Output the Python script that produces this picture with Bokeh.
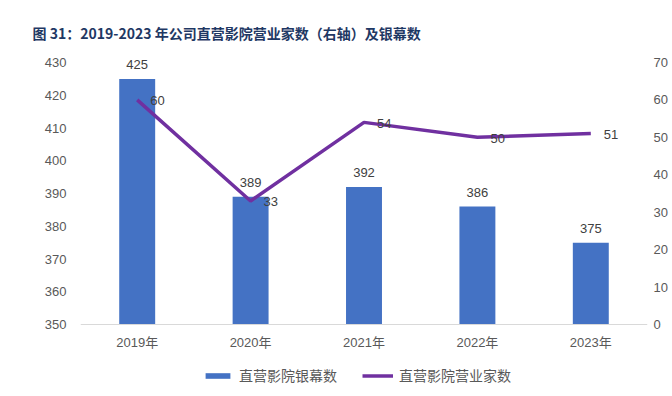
from bokeh.plotting import figure
from bokeh.models import (ColumnDataSource, FactorRange, Range1d, LinearAxis,
                          FixedTicker, Legend, LegendItem)
from bokeh.core.properties import value
from bokeh.embed import file_html
from bokeh.resources import INLINE

years = ["2019年", "2020年", "2021年", "2022年", "2023年"]
screens = [425, 389, 392, 386, 375]
cinemas = [60, 33, 54, 50, 51]
left_ticks = [350, 360, 370, 380, 390, 400, 410, 420, 430]
right_ticks = [0, 10, 20, 30, 40, 50, 60, 70]

title_text = "图 31：2019-2023 年公司直营影院营业家数（右轴）及银幕数"
bar_name = "直营影院银幕数"
line_name = "直营影院营业家数"

BLUE = "#4472C4"
PURPLE = "#7030A0"
GRAY = "#595959"
NUM_FONT = "'Liberation Sans', 'Noto Sans CJK SC', sans-serif"

# pixel layout: frame spans 50..392, the visible axis ranges occupy 62..324
FRAME_TOP, AXIS_TOP, AXIS_Y, FRAME_BOTTOM = 50, 62, 324, 392
ext_lo = (FRAME_BOTTOM - AXIS_Y) / (AXIS_Y - AXIS_TOP)
ext_hi = (AXIS_TOP - FRAME_TOP) / (AXIS_Y - AXIS_TOP)
left_lo, left_hi = left_ticks[0], left_ticks[-1]
right_lo, right_hi = right_ticks[0], right_ticks[-1]
lspan, rspan = left_hi - left_lo, right_hi - right_lo

p = figure(x_range=FactorRange(*years),
           y_range=Range1d(left_lo - ext_lo * lspan, left_hi + ext_hi * lspan),
           width=672, height=396, output_backend="svg", toolbar_location=None,
           min_border_left=80, min_border_right=25, min_border_top=FRAME_TOP,
           min_border_bottom=396 - FRAME_BOTTOM)
p.extra_y_ranges = {"right": Range1d(right_lo - ext_lo * rspan, right_hi + ext_hi * rspan)}
p.outline_line_color = None
p.xgrid.grid_line_color = None
p.ygrid.grid_line_color = None

p.title.text = title_text
p.title.align = "left"
p.title.offset = -48
p.title.standoff = 16
p.title.text_font = "'Noto Sans CJK SC', sans-serif"
p.title.text_font_size = "14px"
p.title.text_font_style = "bold"
p.title.text_color = "#1F3864"

src = ColumnDataSource(dict(x=years, screens=screens, cinemas=cinemas,
                            slab=[str(v) for v in screens],
                            clab=[str(v) for v in cinemas]))

bars = p.vbar(x="x", top="screens", bottom=left_lo, width=0.317, source=src,
              fill_color=BLUE, line_color=None)
line = p.line(x="x", y="cinemas", source=src, y_range_name="right",
              line_color=PURPLE, line_width=3.5)

p.text(x="x", y="screens", text="slab", source=src, text_align="center",
       text_baseline="bottom", y_offset=-10, text_font=value(NUM_FONT),
       text_font_size="13px", text_color="#404040")
p.text(x="x", y="cinemas", text="clab", source=src, y_range_name="right",
       text_align="left", text_baseline="middle", x_offset=13, y_offset=1,
       text_font=value(NUM_FONT), text_font_size="13px", text_color="#404040")

# left axis
ya = p.yaxis[0]
ya.ticker = FixedTicker(ticks=left_ticks)
ya.axis_line_color = None
ya.major_tick_line_color = None
ya.minor_tick_line_color = None
ya.major_tick_out = 0
ya.major_tick_in = 0
ya.major_label_standoff = 14
ya.major_label_text_font = NUM_FONT
ya.major_label_text_font_size = "13px"
ya.major_label_text_color = GRAY

ra = LinearAxis(y_range_name="right", ticker=FixedTicker(ticks=right_ticks))
ra.axis_line_color = None
ra.major_tick_line_color = None
ra.minor_tick_line_color = None
ra.major_tick_out = 0
ra.major_tick_in = 0
ra.major_label_standoff = 6
ra.major_label_text_font = NUM_FONT
ra.major_label_text_font_size = "13px"
ra.major_label_text_color = GRAY
p.add_layout(ra, "right")

xa = p.xaxis[0]
xa.fixed_location = left_lo
xa.axis_line_color = "#D9D9D9"
xa.axis_line_width = 1
xa.major_tick_line_color = None
xa.minor_tick_line_color = None
xa.major_tick_out = 0
xa.major_tick_in = 0
xa.major_label_standoff = 10
xa.major_label_text_font = NUM_FONT
xa.major_label_text_font_size = "13px"
xa.major_label_text_color = GRAY

legend = Legend(items=[LegendItem(label=bar_name, renderers=[bars]),
                       LegendItem(label=line_name, renderers=[line])],
                orientation="horizontal", location=(122, 7),
                glyph_width=31, glyph_height=7, label_height=14,
                label_standoff=6, spacing=25, padding=0, margin=0,
                border_line_color=None, background_fill_alpha=0,
                label_text_font="'Noto Sans CJK SC', sans-serif",
                label_text_font_size="14px", label_text_color=GRAY)
p.add_layout(legend, "center")

open("out.html", "w").write(file_html(p, INLINE))
